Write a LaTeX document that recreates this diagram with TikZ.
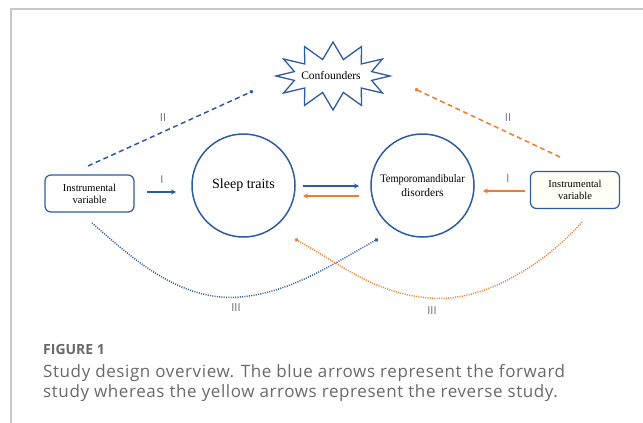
\documentclass[tikz,border=0pt]{standalone}
\usepackage{fontspec}
\setmainfont{Liberation Serif}
\newfontfamily\capfont{Open Sans}
\newfontfamily\capspaced[LetterSpace=3.5]{Open Sans}
\usetikzlibrary{arrows.meta}
\definecolor{fwdblue}{RGB}{46,92,160}
\definecolor{revorange}{RGB}{237,125,49}
\definecolor{capgray}{RGB}{105,105,105}
\definecolor{framegray}{RGB}{200,200,200}
\tikzset{
  ivbox/.style={draw=fwdblue, line width=1.2pt, rounded corners=6pt, fill=white,
    minimum width=89pt, minimum height=37pt, align=center,
    font=\fontsize{10.5}{12}\selectfont},
  trait/.style={draw=fwdblue, line width=1.5pt, circle, minimum size=103pt,
    inner sep=0pt, align=center},
  steplabel/.style={text=capgray, font=\capfont\fontsize{11}{11}\selectfont},
  arr/.style={line width=1.5pt, -{Stealth[length=5pt,width=5pt]}},
  dotend/.style={-{Circle[length=3.5pt]}},
  dashlink/.style={line width=1.5pt, dash pattern=on 5pt off 3.5pt, dotend},
  dotlink/.style={line width=1.5pt, dash pattern=on 1pt off 1.3pt, dotend}
}
\begin{document}
\begin{tikzpicture}[x=1pt,y=-1pt]
\useasboundingbox (0,0) rectangle (643,423);

% frame
\draw[framegray, line width=1.5pt] (643,9) -- (11,9) -- (11,423);

% confounders star
\begin{scope}[shift={(333,76)}]
\draw[fwdblue, line width=1.3pt]
  (0:57 and 34) \foreach \k in {1,...,23} {
    -- ({\k*15}:{ifthenelse(mod(\k,2)==0,57,40)} and {ifthenelse(mod(\k,2)==0,34,17)})
  } -- cycle;
\end{scope}
\node[font=\fontsize{11.5}{12}\selectfont] (conf) at (331,76) {Confounders};

% main nodes
\node[ivbox] (ivL) at (89.5,193.5) {Instrumental\\variable};
\node[ivbox, fill=yellow!3] (ivR) at (575,190) {Instrumental\\variable};
\node[trait, font=\fontsize{14}{16}\selectfont] (sleep) at (243.5,185.5) {Sleep traits};
\node[trait, font=\fontsize{11.5}{14}\selectfont] (tmd) at (422.5,185.5)
  {\scalebox{0.9}[1]{Temporomandibular}\\disorders};

% free ends
\coordinate (bdS) at (88,166);
\coordinate (bdE) at (253,91);
\coordinate (odS) at (560,157);
\coordinate (odE) at (415,89);
\coordinate (bIS) at (147,192);
\coordinate (bIE) at (176,192);
\coordinate (oIS) at (525,191);
\coordinate (oIE) at (483,191);
\coordinate (bmS) at (303,186);
\coordinate (bmE) at (359,186);
\coordinate (omS) at (359,196);
\coordinate (omE) at (303,196);
\coordinate (bcS) at (92,223);
\coordinate (bcM) at (240,297);
\coordinate (bcE) at (378,239);
\coordinate (ocS) at (582,222);
\coordinate (ocM) at (430,298);
\coordinate (ocE) at (295,239);

% forward study
\begin{scope}[fwdblue]
\draw[dashlink] (bdS) -- (bdE);
\draw[arr] (bIS) -- (bIE);
\draw[arr] (bmS) -- (bmE);
\draw[dotlink] (bcS) .. controls +(40,35) and +(-60,5) .. (bcM)
  .. controls +(50,-4) and +(-45,25) .. (bcE);
\end{scope}

% reverse study
\begin{scope}[revorange]
\draw[dashlink] (odS) -- (odE);
\draw[arr] (oIS) -- (oIE);
\draw[arr] (omS) -- (omE);
\draw[dotlink] (ocS) .. controls +(-35,40) and +(55,5) .. (ocM)
  .. controls +(-55,-4) and +(45,25) .. (ocE);
\end{scope}

% step labels
\node[steplabel] (lIa) at (162,180) {I};
\node[steplabel] (lIb) at (508,179) {I};
\node[steplabel] (lIIa) at (163,118) {II};
\node[steplabel] (lIIb) at (508,118) {II};
\node[steplabel] (lIIIa) at (236,308) {III};
\node[steplabel] (lIIIb) at (432,311) {III};

% caption
\node[anchor=base west, text=capgray, font=\capfont\bfseries\fontsize{14}{15}\selectfont,
  inner sep=0pt] (fig) at (43,354) {FIGURE 1};
\node[anchor=base west, text=capgray, font=\capspaced\fontsize{17}{20}\selectfont,
  inner sep=0pt] (cap1) at (43,377) {Study design overview. The blue arrows represent the forward};
\node[anchor=base west, text=capgray, font=\capspaced\fontsize{17}{20}\selectfont,
  inner sep=0pt] (cap2) at (43,397) {study whereas the yellow arrows represent the reverse study.};
\end{tikzpicture}
\end{document}
